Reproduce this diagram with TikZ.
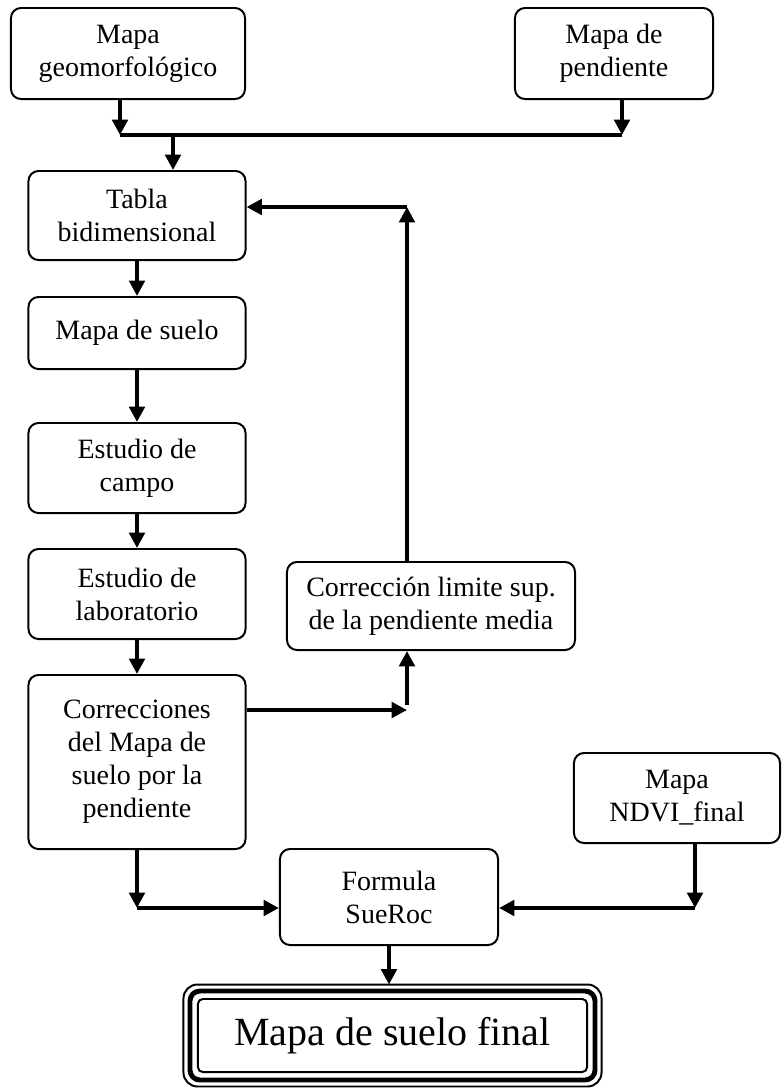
\documentclass[tikz,border=0pt]{standalone}
\usepackage{fontspec}
\setmainfont{Liberation Serif}
\usetikzlibrary{positioning,arrows.meta,calc}
\tikzset{
  box/.style={draw, rounded corners=0.25cm, line width=1.4pt, align=center,
    inner sep=0pt, font=\fontsize{19.9pt}{23.5pt}\selectfont},
  flow/.style={line width=3.5pt, -{Triangle[length=11pt,width=11pt]}},
  bus/.style={line width=3.5pt},
}

\begin{document}
\begin{tikzpicture}[x=0.025cm, y=-0.025cm]
  \useasboundingbox (0,0) rectangle (782,1088);

  % entradas
  \node[box, minimum width=5.85cm, minimum height=2.275cm] (geo) at (128,53.5) {Mapa\\geomorfológico};
  \node[box, minimum width=4.95cm, minimum height=2.275cm] (pend) at (614,53.5) {Mapa de\\pendiente};

  % columna principal
  \node[box, minimum width=5.425cm, minimum height=2.225cm] (tabla) at (137,215.5) {Tabla\\bidimensional};
  \node[box, minimum width=5.425cm, minimum height=1.8cm] (suelo) at (137,333) {Mapa de suelo};
  \node[box, minimum width=5.425cm, minimum height=2.25cm] (campo) at (137,468) {Estudio de\\campo};
  \node[box, minimum width=5.425cm, minimum height=2.25cm] (lab) at (137,594) {Estudio de\\laboratorio};
  \node[box, minimum width=5.425cm, minimum height=4.35cm] (corr) at (137,762) {Correcciones\\del Mapa de\\suelo por la\\pendiente};
  \node[box, minimum width=7.2cm, minimum height=2.2cm] (clim) at (431,606) {Corrección limite sup.\\de la pendiente media};
  \node[box, minimum width=5.15cm, minimum height=2.25cm] (ndvi) at (677,798) {Mapa\\NDVI\_final};
  \node[box, minimum width=5.45cm, minimum height=2.4cm] (formula) at (389,897) {Formula\\SueRoc};

  % resultado
  \node[box, minimum width=9.725cm, minimum height=1.825cm, rounded corners=0.12cm,
    font=\fontsize{28.45pt}{32pt}\selectfont] (final) at (392.5,1035.5) {Mapa de suelo final};
  \draw[line width=3.5pt, rounded corners=0.25cm]
    ($(final.south west)+(-7,7)$) rectangle ($(final.north east)+(7,-7)$);
  \draw[line width=1.4pt, rounded corners=0.35cm]
    ($(final.south west)+(-13.5,13.5)$) rectangle ($(final.north east)+(13.5,-13.5)$);
  \coordinate (finTop) at ($(final.north)+(0,-13.5)$);

  \coordinate (busL) at (120,135);
  \coordinate (busR) at (622,135);
  \coordinate (busM) at (173,135);
  \coordinate (fbTop) at (407,207);
  \coordinate (cTurn) at (407,710);
  \coordinate (cUp) at (407,705);
  \coordinate (fL) at (137,908);
  \coordinate (fR) at (695,908);

  \draw[flow] (geo.south -| busL) -- (busL);
  \draw[flow] (pend.south -| busR) -- (busR);
  \draw[bus] (busL) -- (busR);
  \draw[flow] (busM) -- (tabla.north -| busM);

  \draw[flow] (tabla) -- (suelo);
  \draw[flow] (suelo) -- (campo);
  \draw[flow] (campo) -- (lab);
  \draw[flow] (lab) -- (corr);

  \draw[flow] (clim.north -| fbTop) -- (fbTop);
  \draw[flow] (fbTop) -- (tabla.east |- fbTop);
  \draw[flow] (corr.east |- cTurn) -- (cTurn);
  \draw[flow] (cUp) -- (clim.south -| cUp);

  \draw[flow] (corr.south -| fL) -- (fL);
  \draw[flow] (fL) -- (formula.west |- fL);
  \draw[flow] (ndvi.south -| fR) -- (fR);
  \draw[flow] (fR) -- (formula.east |- fR);
  \draw[flow] (formula.south) -- (formula.south |- finTop);
\end{tikzpicture}
\end{document}
